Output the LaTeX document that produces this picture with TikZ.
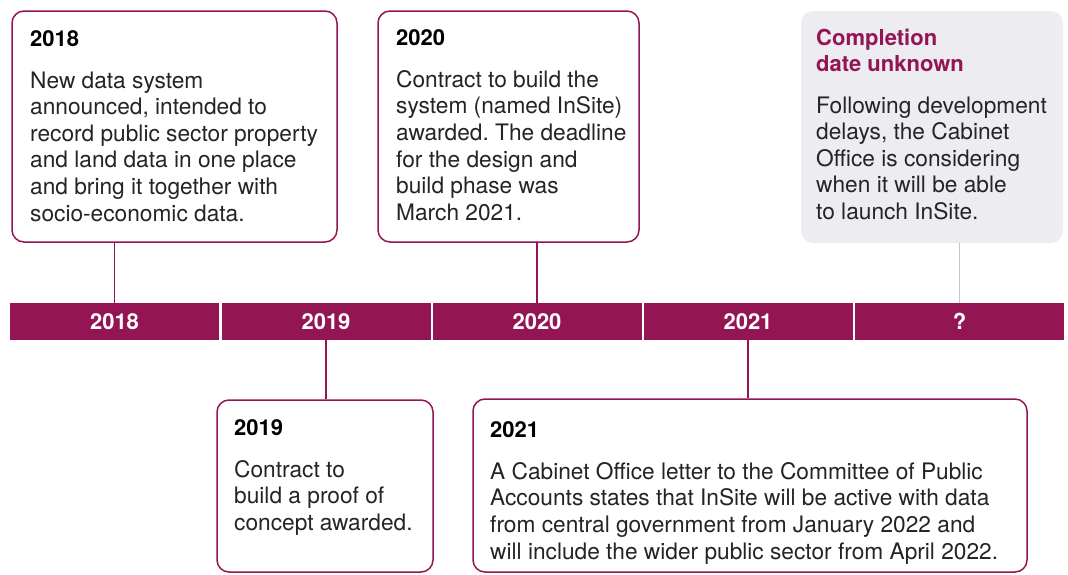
\documentclass[tikz,border=0pt]{standalone}
\usepackage{fontspec}
\setmainfont{TeX Gyre Heros}
\frenchspacing
\definecolor{plum}{RGB}{148,21,83}
\definecolor{panelgrey}{RGB}{237,236,241}
\definecolor{stemgrey}{RGB}{197,195,208}
\definecolor{ink}{RGB}{38,35,36}
\begin{document}
\begin{tikzpicture}[x=1pt,y=-1pt,
  card/.style={draw=plum, line width=1.5pt, rounded corners=12pt, fill=white, inner sep=0pt},
  greycard/.style={fill=panelgrey, rounded corners=12pt, inner sep=0pt},
  seg/.style={fill=plum, minimum width=209pt, minimum height=37pt, inner sep=0pt,
    text=white, font=\fontsize{22}{26}\selectfont\bfseries},
  head/.style={anchor=base west, inner sep=0pt, align=left,
    font=\fontsize{22}{26.6}\selectfont\bfseries},
  body/.style={anchor=base west, inner sep=0pt, align=left, text=ink,
    font=\fontsize{22.7}{26.6}\selectfont},
  stem/.style={draw=plum, line width=1.5pt},
  greystem/.style={draw=stemgrey, line width=1.5pt}]
\useasboundingbox (0,0) rectangle (1068,574);

% timeline bar
\node[seg] (s18) at (114.5,321.5) {2018};
\node[seg] (s19) at (326,321.5) {2019};
\node[seg] (s20) at (537,321.5) {2020};
\node[seg] (s21) at (748,321.5) {2021};
\node[seg] (sq) at (959.5,321.5) {?};

% cards above the bar
\node[card, minimum width=325pt, minimum height=231pt] (b18) at (174.5,126.5) {};
\node[card, minimum width=261pt, minimum height=231pt] (b20) at (508.5,126.5) {};
\node[greycard, minimum width=262pt, minimum height=232pt] (bq) at (932,127) {};

% cards below the bar
\node[card, minimum width=216pt, minimum height=172pt] (b19) at (325,486) {};
\node[card, minimum width=554pt, minimum height=173pt] (b21) at (750,485.5) {};

% stems
\draw[stem] (s18.north) -- (s18.north |- b18.south);
\draw[stem] (s20.north) -- (s20.north |- b20.south);
\draw[greystem] (sq.north) -- (sq.north |- bq.south);
\draw[stem] (s19.south) -- (s19.south |- b19.north);
\draw[stem] (s21.south) -- (s21.south |- b21.north);

% card texts (multi-line nodes are placed by the baseline of their last line)
\node[head] (h18) at (30,46) {2018};
\node[body] (t18) at (30,221) {New data system\\announced, intended to\\record public sector property\\and land data in one place\\and bring it together with\\socio-economic data.};

\node[head] (h20) at (396,45) {2020};
\node[body] (t20) at (396,220.3) {Contract to build the\\system (named InSite)\\awarded. The deadline\\for the design and\\build phase was\\March 2021.};

\node[head, text=plum] (hq) at (816,71.6) {Completion\\date unknown};
\node[body] (tq) at (816,219.4) {Following development\\delays, the Cabinet\\Office is considering\\when it will be able\\to launch InSite.};

\node[head] (h19) at (234,435) {2019};
\node[body] (t19) at (234,530.2) {Contract to\\build a proof of\\concept awarded.};

\node[head] (h21) at (490,437.5) {2021};
\node[body] (t21) at (490,559) {A Cabinet Office letter to the Committee of Public\\Accounts states that InSite will be active with data\\from central government from January 2022 and\\will include the wider public sector from April 2022.};
\end{tikzpicture}
\end{document}
